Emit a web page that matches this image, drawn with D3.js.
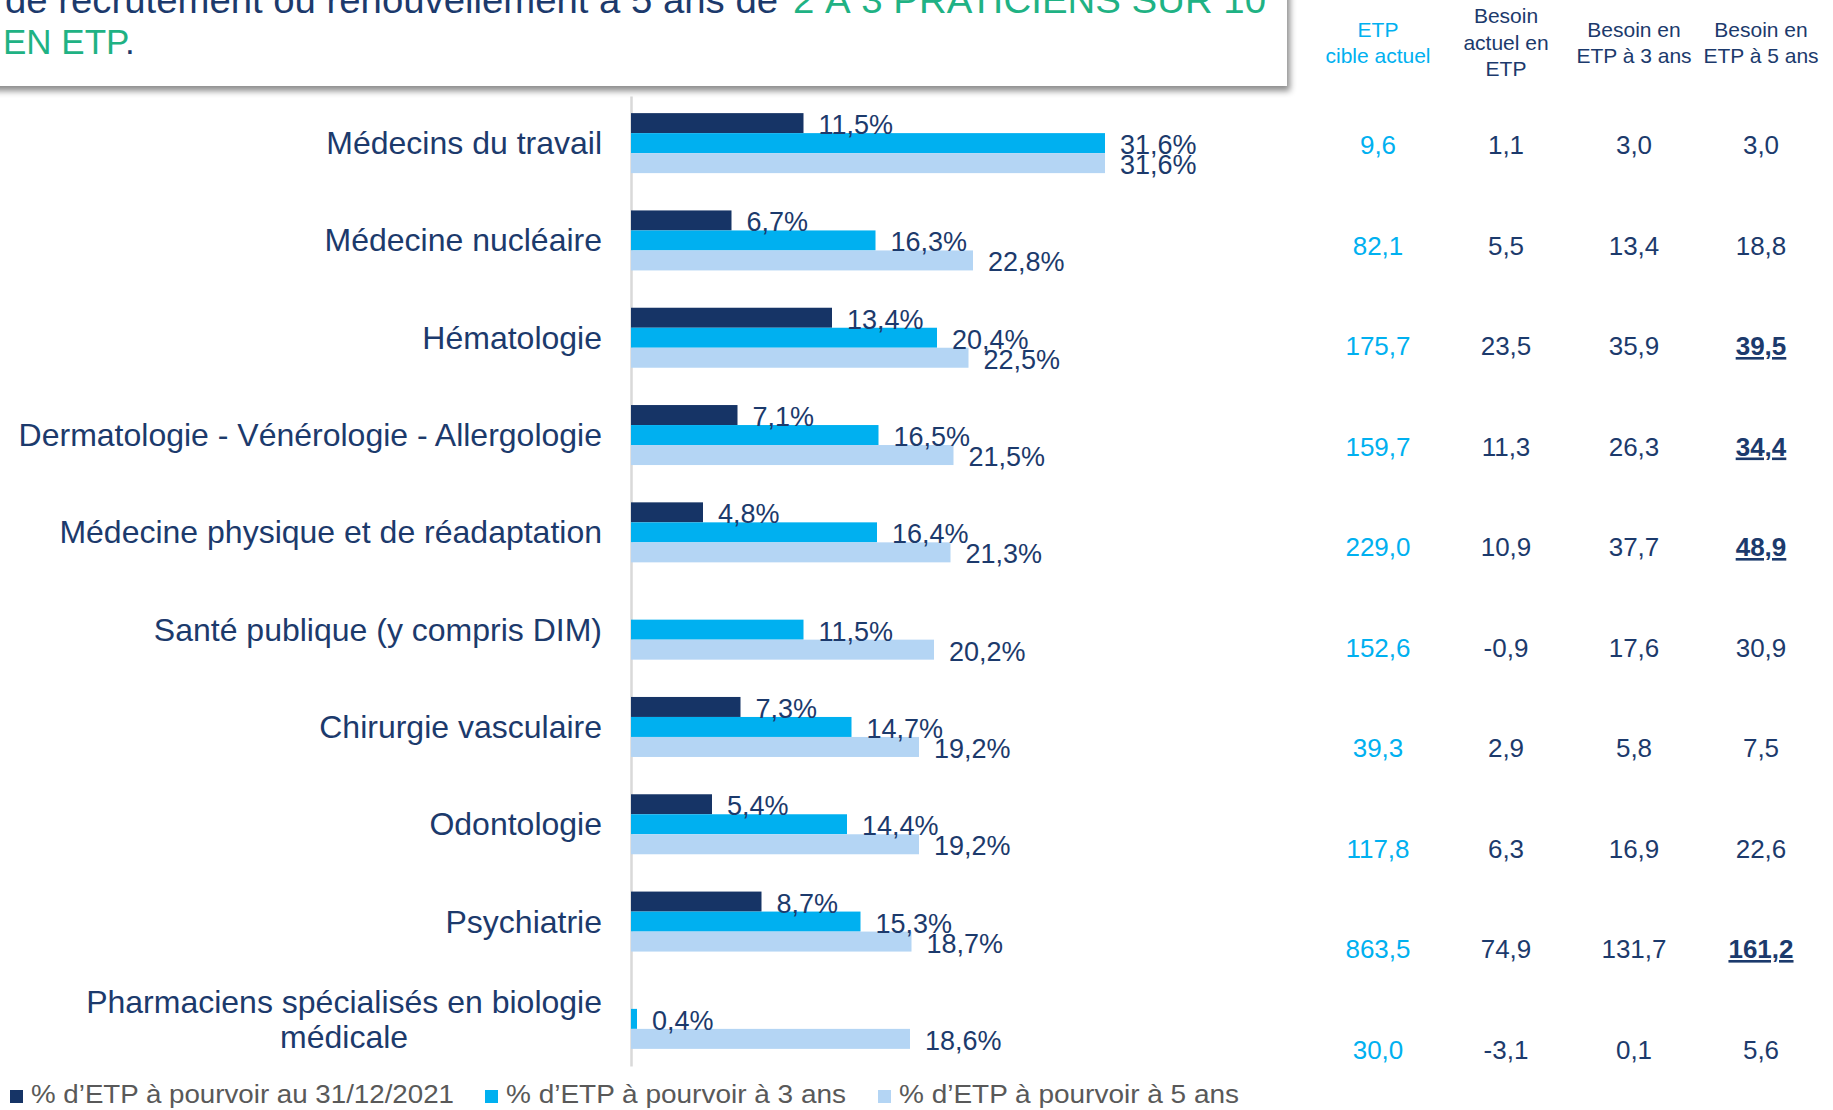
<!DOCTYPE html>
<html>
<head>
<meta charset="utf-8">
<script src="https://cdn.jsdelivr.net/npm/d3@7"></script>
<style>
  html, body { margin: 0; padding: 0; background: #ffffff; overflow: hidden; }
  svg { display: block; font-family: "Liberation Sans", Arial, sans-serif; }
</style>
</head>
<body>
<div id="chart"></div>
<script>

const categories = [
    "Médecins du travail",
    "Médecine nucléaire",
    "Hématologie",
    "Dermatologie - Vénérologie - Allergologie",
    "Médecine physique et de réadaptation",
    "Santé publique (y compris DIM)",
    "Chirurgie vasculaire",
    "Odontologie",
    "Psychiatrie",
    "Pharmaciens spécialisés en biologie médicale"
];

const pct2021 = [11.5, 6.7, 13.4, 7.1, 4.8, null, 7.3, 5.4, 8.7, null];
const pct3ans = [31.6, 16.3, 20.4, 16.5, 16.4, 11.5, 14.7, 14.4, 15.3, 0.4];
const pct5ans = [31.6, 22.8, 22.5, 21.5, 21.3, 20.2, 19.2, 19.2, 18.7, 18.6];

const seriesNames = [
    "% d’ETP à pourvoir au 31/12/2021",
    "% d’ETP à pourvoir à 3 ans",
    "% d’ETP à pourvoir à 5 ans"
];

const etpCible = [9.6, 82.1, 175.7, 159.7, 229.0, 152.6, 39.3, 117.8, 863.5, 30.0];
const besoinActuel = [1.1, 5.5, 23.5, 11.3, 10.9, -0.9, 2.9, 6.3, 74.9, -3.1];
const besoin3ans = [3.0, 13.4, 35.9, 26.3, 37.7, 17.6, 5.8, 16.9, 131.7, 0.1];
const besoin5ans = [3.0, 18.8, 39.5, 34.4, 48.9, 30.9, 7.5, 22.6, 161.2, 5.6];
const besoin5ansBold = [false, false, true, true, true, false, false, false, true, false];

const tableHeaders = [
    ["ETP", "cible actuel"],
    ["Besoin", "actuel en", "ETP"],
    ["Besoin en", "ETP à 3 ans"],
    ["Besoin en", "ETP à 5 ans"]
];

const w = 1833;
const h = 1110;
const navy = '#163466';
const textNavy = '#1c3a6c';
const cyan = '#00b0f0';
const light = '#b4d5f4';
const green = '#1fb284';
const colors = [navy, cyan, light];

// french decimals, plain hyphen for negatives
const fmt = v => d3.format('.1f')(v).replace('.', ',').replace('−', '-');

const svg = d3.select('#chart')
    .append('svg')
    .attr('width', w)
    .attr('height', h);

// drop shadow for the title box
const defs = svg.append('defs');
const filter = defs.append('filter')
    .attr('id', 'shadow')
    .attr('x', '-5%').attr('y', '-20%')
    .attr('width', '110%').attr('height', '150%');
filter.append('feDropShadow')
    .attr('dx', 3).attr('dy', 5)
    .attr('stdDeviation', 3)
    .attr('flood-color', '#000')
    .attr('flood-opacity', 0.45);

// scales
const x = d3.scaleLinear([0, 31.6], [631, 631 + 31.6 * 15]);
const y = d3.scaleBand(categories, [96, 1066])
    .paddingInner(0.3834)
    .paddingOuter(0.176);
const ySub = d3.scaleBand([0, 1, 2], [0, y.bandwidth()]);
const rowY = d3.scalePoint(categories, [154, 1058.5]);

// vertical axis line
svg.append('g')
    .attr('transform', 'translate(631,0)')
    .call(d3.axisLeft(y).tickSize(0).tickFormat(''))
    .call(g => g.select('.domain').attr('stroke', '#d9d9d9').attr('stroke-width', 2.5));

// bars
const series = [pct2021, pct3ans, pct5ans];
const barData = [];
categories.forEach((c, i) => {
    series.forEach((s, j) => {
        if (s[i] !== null) barData.push({ cat: c, s: j, v: s[i] });
    });
});

svg.append('g')
    .selectAll('rect')
    .data(barData)
    .join('rect')
    .attr('x', x(0))
    .attr('y', d => y(d.cat) + ySub(d.s))
    .attr('width', d => x(d.v) - x(0))
    .attr('height', ySub.bandwidth())
    .attr('fill', d => colors[d.s]);

svg.append('g')
    .selectAll('text')
    .data(barData)
    .join('text')
    .attr('x', d => x(d.v) + 15)
    .attr('y', d => y(d.cat) + ySub(d.s) + ySub.bandwidth() + 1)
    .attr('font-size', 27)
    .attr('fill', textNavy)
    .text(d => fmt(d.v) + '%');

// category labels
const catG = svg.append('g');
categories.forEach((c, i) => {
    const cy = y(c) + y.bandwidth() / 2;
    if (i < categories.length - 1) {
        catG.append('text')
            .attr('x', 602)
            .attr('y', cy + 11)
            .attr('text-anchor', 'end')
            .attr('font-size', 32)
            .attr('fill', textNavy)
            .text(c);
    } else {
        const words = c.split(' ');
        const l1 = words.slice(0, 4).join(' ');
        const l2 = words.slice(4).join(' ');
        const t1 = catG.append('text')
            .attr('x', 602)
            .attr('y', cy - 6)
            .attr('text-anchor', 'end')
            .attr('font-size', 32)
            .attr('fill', textNavy)
            .text(l1);
        const wl = t1.node().getComputedTextLength();
        catG.append('text')
            .attr('x', 602 - wl / 2)
            .attr('y', cy + 29)
            .attr('text-anchor', 'middle')
            .attr('font-size', 32)
            .attr('fill', textNavy)
            .text(l2);
    }
});

// table on the right
const colX = [1378, 1506, 1634, 1761];
const headerBase = [[37, 63], [23, 50, 76], [37, 63], [37, 63]];
tableHeaders.forEach((lines, k) => {
    lines.forEach((line, n) => {
        svg.append('text')
            .attr('x', colX[k])
            .attr('y', headerBase[k][n])
            .attr('text-anchor', 'middle')
            .attr('font-size', 21)
            .attr('fill', k === 0 ? cyan : textNavy)
            .text(line);
    });
});

const cols = [etpCible, besoinActuel, besoin3ans, besoin5ans];
cols.forEach((col, k) => {
    svg.append('g')
        .selectAll('text')
        .data(col)
        .join('text')
        .attr('x', colX[k])
        .attr('y', (d, i) => rowY(categories[i]))
        .attr('text-anchor', 'middle')
        .attr('font-size', 26)
        .attr('fill', k === 0 ? cyan : textNavy)
        .attr('font-weight', (d, i) => (k === 3 && besoin5ansBold[i]) ? 'bold' : 'normal')
        .style('text-decoration', (d, i) => (k === 3 && besoin5ansBold[i]) ? 'underline' : 'none')
        .text(d => fmt(d));
});

// title box
svg.append('rect')
    .attr('x', -20)
    .attr('y', -20)
    .attr('width', 1307)
    .attr('height', 106)
    .attr('fill', '#ffffff')
    .attr('filter', 'url(#shadow)');

svg.append('text')
    .attr('x', 5)
    .attr('y', 13)
    .attr('font-size', 36)
    .attr('fill', textNavy)
    .attr('textLength', 773)
    .attr('lengthAdjust', 'spacingAndGlyphs')
    .text('de recrutement ou renouvellement à 5 ans de');

svg.append('text')
    .attr('x', 793)
    .attr('y', 13)
    .attr('font-size', 36)
    .attr('fill', green)
    .attr('textLength', 473)
    .attr('lengthAdjust', 'spacingAndGlyphs')
    .text('2 À 3 PRATICIENS SUR 10');

const t2 = svg.append('text')
    .attr('x', 3)
    .attr('y', 54)
    .attr('font-size', 35);
t2.append('tspan').attr('fill', green).text('EN ETP');
t2.append('tspan').attr('fill', textNavy).text('.');

// legend
const legX = [10, 485, 878];
const legW = [423, 340, 340];
const legend = svg.append('g');
seriesNames.forEach((name, j) => {
    legend.append('rect')
        .attr('x', legX[j])
        .attr('y', 1090)
        .attr('width', 13)
        .attr('height', 13)
        .attr('fill', colors[j]);
    legend.append('text')
        .attr('x', legX[j] + 21)
        .attr('y', 1103)
        .attr('font-size', 25)
        .attr('fill', '#595959')
        .attr('textLength', legW[j])
        .attr('lengthAdjust', 'spacingAndGlyphs')
        .text(name);
});

</script>
</body>
</html>
